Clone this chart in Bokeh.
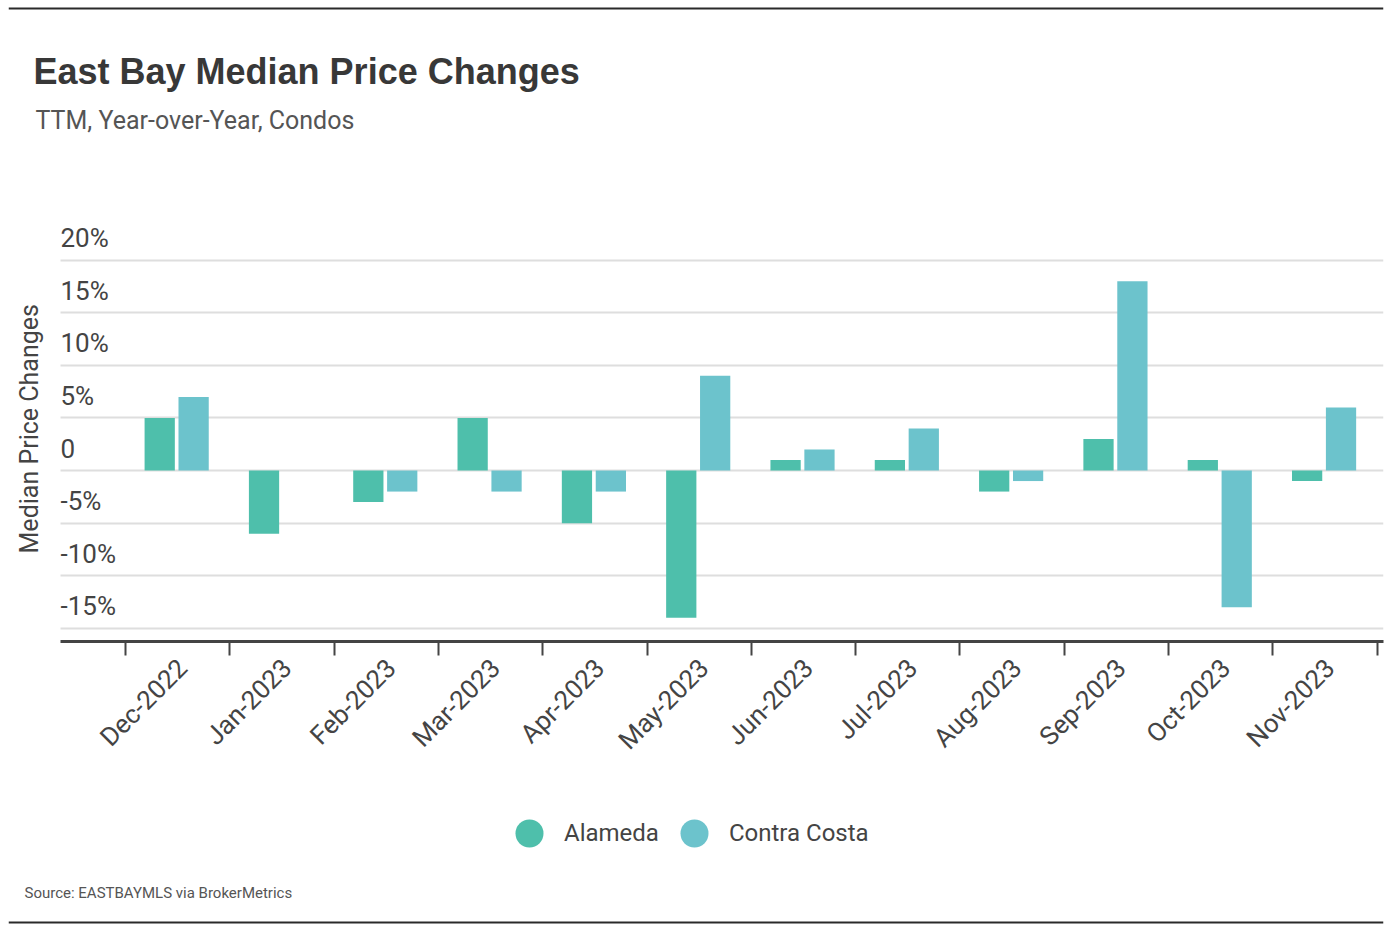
from math import pi
from bokeh.plotting import figure
from bokeh.layouts import column
from bokeh.models import (Range1d, FixedTicker, ColumnDataSource, Legend, LegendItem)
from bokeh.transform import dodge
from bokeh.core.properties import value
from bokeh.embed import file_html
from bokeh.resources import INLINE

# ---------------- data ----------------
months = ["Dec-2022", "Jan-2023", "Feb-2023", "Mar-2023", "Apr-2023", "May-2023",
          "Jun-2023", "Jul-2023", "Aug-2023", "Sep-2023", "Oct-2023", "Nov-2023"]
alameda = [5, -6, -3, 5, -5, -14, 1, 1, -2, 3, 1, -1]
contra_costa = [7, 0, -2, -2, -2, 9, 2, 4, -1, 18, -13, 6]
series_names = ["Alameda", "Contra Costa"]
y_ticks = [-15, -10, -5, 0, 5, 10, 15, 20]
y_tick_labels = ["-15%", "-10%", "-5%", "0", "5%", "10%", "15%", "20%"]
title_text = "East Bay Median Price Changes"
subtitle_text = "TTM, Year-over-Year, Condos"
y_title = "Median Price Changes"
source_text = "Source:  EASTBAYMLS via BrokerMetrics"

# ---------------- style ----------------
FONT = "Roboto"
TITLE_FONT = "Liberation Sans"
COLORS = ["#4ebfab", "#6cc3cc"]
TEXT = "#444444"
RULE = "#2a2a2a"
W = 1390
LEFT, RIGHT = 8, 1383                 # frame edges shared by all three figures
HEAD_H, MAIN_H, FOOT_H = 160, 620, 150


def blank(height):
    f = figure(width=W, height=height, x_range=Range1d(LEFT, RIGHT),
               y_range=Range1d(height, 0), output_backend="svg",
               toolbar_location=None, x_axis_location=None, y_axis_location=None,
               min_border_left=LEFT, min_border_right=W - RIGHT,
               min_border_top=0, min_border_bottom=0)
    f.outline_line_color = None
    f.xgrid.visible = False
    f.ygrid.visible = False
    return f


# ---------------- header ----------------
head = blank(HEAD_H)
head.segment(x0=[LEFT], y0=[8], x1=[RIGHT], y1=[8], line_color=RULE, line_width=2)
head.text(x=[33], y=[71], text=[title_text], text_font=value(TITLE_FONT),
          text_font_style="bold", text_font_size="36px", text_color="#383838",
          text_baseline="middle")
head.text(x=[35], y=[120], text=[subtitle_text], text_font=value(FONT),
          text_font_size="25px", text_color="#555555", text_baseline="middle")

# ---------------- main chart ----------------
U = 104.31                     # px per category
X_TICK0 = 125                  # canvas x of first category boundary
PLOT_L = 60                    # canvas x where axis line / grid start
XR = (-(X_TICK0 - LEFT) / U, (RIGHT - X_TICK0) / U)
X_PLOT_L = -(X_TICK0 - PLOT_L) / U
YR = (-16.25, 23.29)

p = figure(width=W, height=MAIN_H, x_range=Range1d(*XR), y_range=Range1d(*YR),
           output_backend="svg", toolbar_location=None, y_axis_location=None,
           min_border_left=LEFT, min_border_right=W - RIGHT,
           min_border_top=225 - HEAD_H, min_border_bottom=HEAD_H + MAIN_H - 641)
p.outline_line_color = None
p.xgrid.visible = False

# horizontal grid, starting at the plot's left edge
grid_ok = True
try:
    p.ygrid.ticker = FixedTicker(ticks=y_ticks)
    p.ygrid.cross_bounds = (X_PLOT_L, XR[1])
    p.ygrid.grid_line_color = "#dedede"
    p.ygrid.grid_line_width = 2
except Exception:
    grid_ok = False
if not grid_ok:
    p.ygrid.visible = False
    gsrc = ColumnDataSource(dict(y=y_ticks, x0=[X_PLOT_L] * len(y_ticks),
                                 x1=[XR[1]] * len(y_ticks)))
    p.segment(x0="x0", y0="y", x1="x1", y1="y", source=gsrc,
              line_color="#dedede", line_width=2)

# x axis: labels near category centres, ticks at category boundaries
n = len(months)
label_shift = 0.046875
label_pos = [i + 0.5 + label_shift for i in range(n)]
ax = p.xaxis[0]
ax.bounds = (X_PLOT_L, XR[1])
ax.ticker = FixedTicker(ticks=label_pos, minor_ticks=list(range(n + 1)))
ax.major_label_overrides = {t: m for t, m in zip(label_pos, months)}
ax.major_label_orientation = pi / 4
ax.major_tick_out = 0
ax.major_tick_in = 0
ax.major_tick_line_color = None
ax.minor_tick_out = 14
ax.minor_tick_in = 0
ax.minor_tick_line_color = "#444444"
ax.minor_tick_line_width = 2
ax.axis_line_color = "#444444"
ax.axis_line_width = 3
ax.major_label_standoff = 8
ax.major_label_text_font = FONT
ax.major_label_text_font_size = "26px"
ax.major_label_text_color = TEXT

# bars
src = ColumnDataSource(dict(pos=[i + 0.5 for i in range(n)],
                            alameda=alameda, contra=contra_costa))
bw = 0.29
p.vbar(x=dodge("pos", -0.172), top="alameda", bottom=0, width=bw, source=src,
       fill_color=COLORS[0], line_color=None)
p.vbar(x=dodge("pos", 0.153), top="contra", bottom=0, width=bw, source=src,
       fill_color=COLORS[1], line_color=None)

# y tick labels sitting above their grid lines
ysrc = ColumnDataSource(dict(x=[X_PLOT_L] * len(y_ticks), y=y_ticks, t=y_tick_labels))
p.text(x="x", y="y", text="t", source=ysrc, text_font=value(FONT),
       text_font_size="26px", text_color=TEXT, text_align="left",
       text_baseline="middle", y_offset=-22)

# y axis title (rotated)
y_mid = (YR[0] + YR[1]) / 2 + 0.45
p.text(x=[-(X_TICK0 - 29) / U], y=[y_mid], text=[y_title], text_font=value(FONT),
       text_font_size="25px", text_color=TEXT, text_align="center",
       text_baseline="middle", angle=pi / 2)

# ---------------- footer ----------------
foot = blank(FOOT_H)
nan = float("nan")
ra = foot.scatter(x=[nan], y=[nan], marker="circle", size=28,
                  fill_color=COLORS[0], line_color=None)
rc = foot.scatter(x=[nan], y=[nan], marker="circle", size=28,
                  fill_color=COLORS[1], line_color=None)
legend = Legend(items=[LegendItem(label=series_names[0], renderers=[ra]),
                       LegendItem(label=series_names[1], renderers=[rc])],
                orientation="horizontal", location=(494 - LEFT, FOOT_H - 88),
                glyph_width=70, glyph_height=70, label_standoff=0, spacing=-8,
                padding=0, margin=0, border_line_color=None,
                background_fill_alpha=0, label_text_font=FONT,
                label_text_font_size="24px", label_text_color=TEXT,
                label_text_baseline="middle")
foot.add_layout(legend, "center")
foot.text(x=[24], y=[112], text=[source_text], text_font=value(FONT),
          text_font_size="15px", text_color="#555555", text_baseline="middle")
foot.segment(x0=[LEFT], y0=[142], x1=[RIGHT], y1=[142], line_color=RULE, line_width=2)

layout = column(head, p, foot, spacing=0)
open("out.html", "w").write(file_html(layout, INLINE))
